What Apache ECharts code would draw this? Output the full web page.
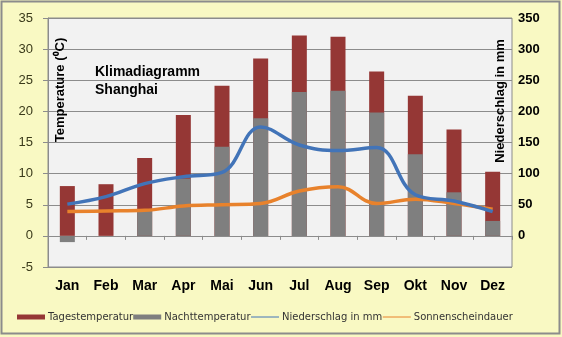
<!DOCTYPE html>
<html><head><meta charset="utf-8">
<script src="https://cdn.jsdelivr.net/npm/echarts@6/dist/echarts.min.js"></script>
<style>html,body{margin:0;padding:0;background:#f9f9c3;}#c{width:562px;height:337px;}</style>
</head><body><div id="c"></div>
<script>
const months = ['Jan','Feb','Mar','Apr','Mai','Jun','Jul','Aug','Sep','Okt','Nov','Dez'];
const tagesTemp = [8.0, 8.3, 12.5, 19.4, 24.1, 28.5, 32.2, 32.0, 26.4, 22.5, 17.1, 10.3];
const nachtTemp = [-1.0, 0.0, 4.0, 9.2, 14.3, 18.9, 23.1, 23.3, 19.8, 13.1, 7.0, 2.4];
const niederschlag = [51, 63, 84, 95, 102, 175, 146, 137, 142, 66, 56, 39];
const sonnenschein = [3.9, 4.0, 4.1, 4.8, 5.0, 5.2, 7.2, 7.9, 5.2, 5.9, 5.2, 4.3];
const tempTicks = { min: -5, max: 35, interval: 5 };
const rainTicks = { min: -50, max: 350, interval: 50 };

const RED = '#953735', GRAY = '#7f7f7f', BLUE = '#4274b8', ORANGE = '#e8822c';
const chart = echarts.init(document.getElementById('c'));
chart.setOption({
  animation: false,
  backgroundColor: '#f9f9c3',
  textStyle: { fontFamily: 'Liberation Sans, Arial, sans-serif' },
  grid: { left: 48, right: 50, top: 18, bottom: 70, show: true, backgroundColor: '#f2f2f2', borderColor: '#8c8c8c', borderWidth: 1 },
  legend: {
    left: 12, top: 307, itemGap: 0, itemWidth: 28, itemHeight: 5,
    textStyle: { fontFamily: 'DejaVu Sans', fontSize: 10, color: '#333', padding: [0, 0, 0, -2] },
    data: [
      { name: 'Tagestemperatur', icon: 'rect' },
      { name: 'Nachttemperatur', icon: 'rect' },
      { name: 'Niederschlag in mm', lineStyle: { width: 1 }, itemStyle: { opacity: 0 } },
      { name: 'Sonnenscheindauer', lineStyle: { width: 1 }, itemStyle: { opacity: 0 } }
    ]
  },
  xAxis: {
    type: 'category', data: months,
    axisLine: { onZero: true, lineStyle: { color: '#8c8c8c' } },
    axisTick: { show: true, length: 4, lineStyle: { color: '#8c8c8c' } },
    axisLabel: { margin: 12, fontSize: 14, fontWeight: 'bold', color: '#000', fontFamily: 'Liberation Sans, Arial' }
  },
  yAxis: [
    {
      type: 'value', min: tempTicks.min, max: tempTicks.max, interval: tempTicks.interval,
      axisLine: { show: true, lineStyle: { color: '#8c8c8c' } },
      axisTick: { show: true, length: 5, lineStyle: { color: '#8c8c8c' } },
      axisLabel: { fontSize: 13, color: '#3a3a1a', margin: 15 },
      splitLine: { show: true, lineStyle: { color: '#8c8c8c' } }
    },
    {
      type: 'value', min: rainTicks.min, max: rainTicks.max, interval: rainTicks.interval,
      axisLine: { show: false }, axisTick: { show: false },
      axisLabel: { fontSize: 13, fontWeight: 'bold', color: '#000', margin: 6, formatter: v => v < 0 ? '' : String(v) },
      splitLine: { show: false }
    }
  ],
  series: [
    { name: 'Tagestemperatur', type: 'bar', data: tagesTemp, barWidth: 15, barGap: '-100%', itemStyle: { color: RED }, z: 2 },
    { name: 'Nachttemperatur', type: 'bar', data: nachtTemp, barWidth: 15, barGap: '-100%', itemStyle: { color: GRAY }, z: 3 },
    { name: 'Niederschlag in mm', type: 'line', yAxisIndex: 1, data: niederschlag, smooth: 0.4, symbol: 'none',
      lineStyle: { color: BLUE, width: 3.5 }, itemStyle: { color: BLUE }, z: 5 },
    { name: 'Sonnenscheindauer', type: 'line', yAxisIndex: 0, data: sonnenschein, smooth: 0.4, symbol: 'none',
      lineStyle: { color: ORANGE, width: 3.5 }, itemStyle: { color: ORANGE }, z: 4 }
  ],
  graphic: [
    { type: 'rect', shape: { x: 1.5, y: 1.5, width: 558, height: 332 }, style: { fill: 'none', stroke: '#8c8c8c', lineWidth: 2 }, z: 100 },
    { type: 'text', x: 95, y: 63, style: { text: 'Klimadiagramm\nShanghai', font: 'bold 14px Liberation Sans, Arial', fill: '#000', lineHeight: 18 }, z: 50 },
    { type: 'text', x: 60, y: 90, rotation: Math.PI / 2, style: { text: 'Temperature (⁰C)', font: 'bold 13px Liberation Sans, Arial', fill: '#000', align: 'center', verticalAlign: 'middle' }, z: 50 },
    { type: 'text', x: 500, y: 101, rotation: Math.PI / 2, style: { text: 'Niederschlag in mm', font: 'bold 13px Liberation Sans, Arial', fill: '#000', align: 'center', verticalAlign: 'middle' }, z: 50 }
  ]
});
</script></body></html>
